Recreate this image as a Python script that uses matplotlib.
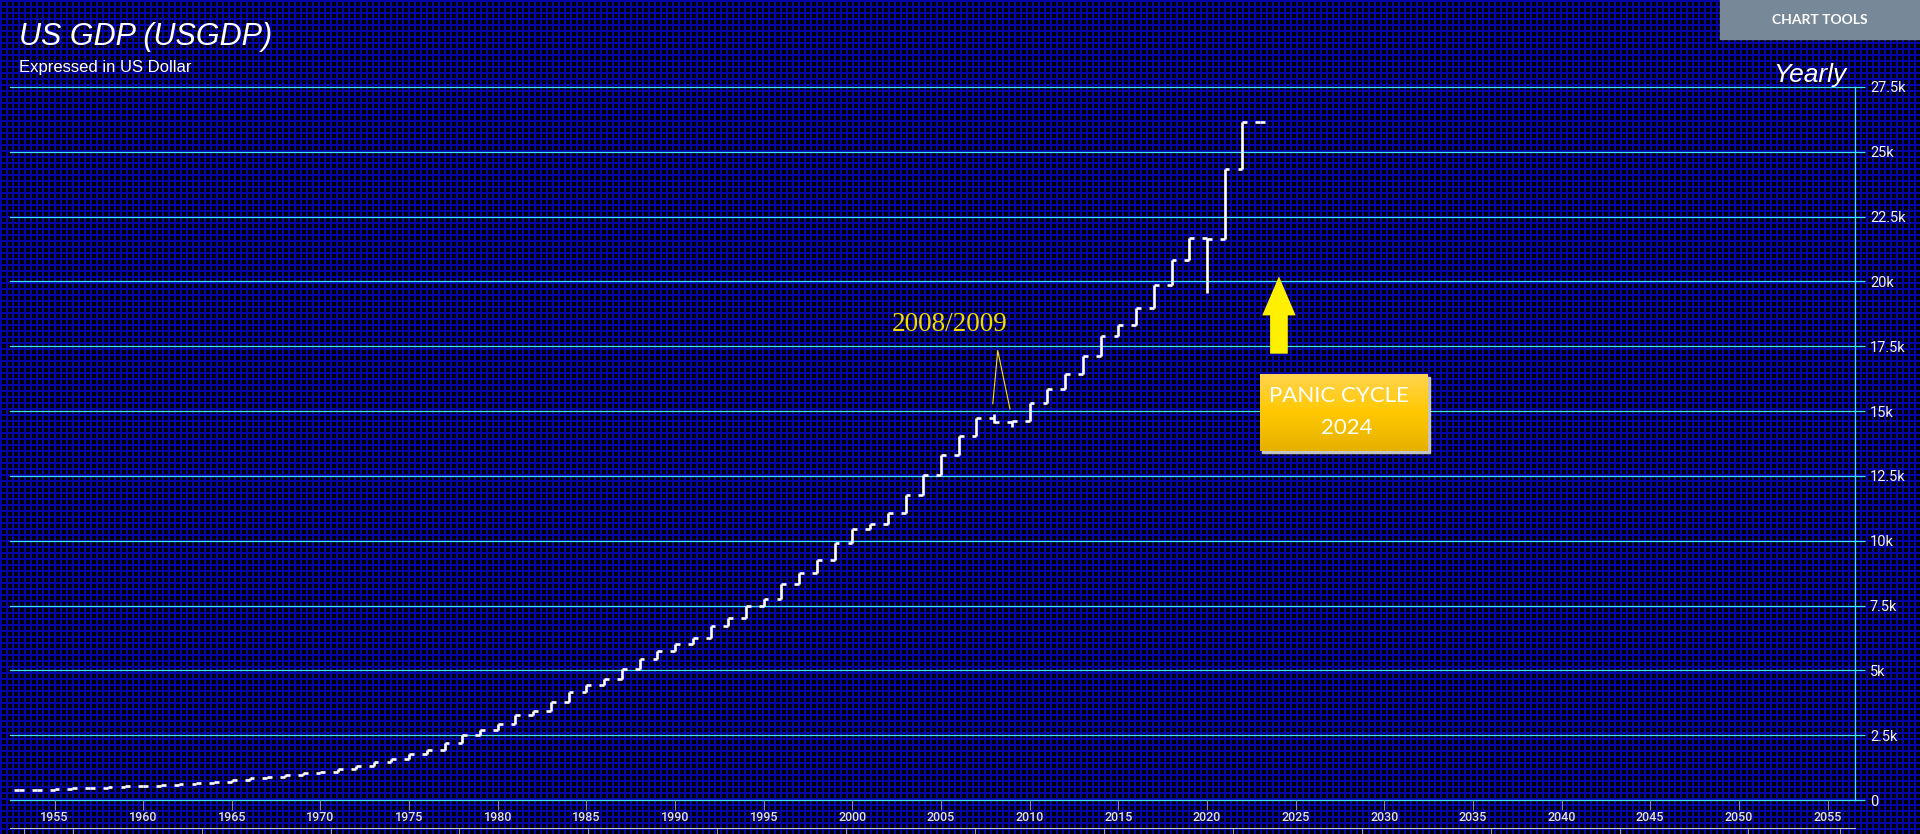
import numpy as np
import matplotlib
matplotlib.use("Agg")
import matplotlib.pyplot as plt
from matplotlib.patches import Rectangle, Polygon
from matplotlib.lines import Line2D

plt.rcParams["font.family"] = ["Roboto", "DejaVu Sans"]

# yearly bars (billions USD): open = previous close, close = Q4 level
years = list(range(1953, 2024))
close = [386, 400, 437, 461, 471, 501, 530,
         540, 586, 615, 654, 698, 771, 830, 881, 971, 1037,
         1087, 1189, 1328, 1475, 1593, 1765, 1931, 2180, 2492, 2717,
         2918, 3269, 3414, 3794, 4149, 4442, 4661, 5046, 5437, 5750,
         6027, 6265, 6704, 7032, 7469, 7764, 8329, 8765, 9268, 9905,
         10435, 10660, 11081, 11772, 12527, 13324, 14038, 14716, 14580, 14630,
         15309, 15844, 16420, 17132, 17912, 18322, 18970, 19882, 20816, 21695,
         21650, 24349, 26138, 26138]
open_ = [380, 386, 400, 437, 461, 471, 501,
         530, 540, 586, 615, 654, 698, 771, 830, 881, 971,
         1037, 1087, 1189, 1328, 1475, 1593, 1765, 1931, 2180, 2492,
         2717, 2918, 3269, 3414, 3794, 4149, 4442, 4661, 5046, 5437,
         5750, 6027, 6265, 6704, 7032, 7469, 7764, 8329, 8765, 9268,
         9905, 10435, 10660, 11081, 11772, 12527, 13324, 14038, 14716, 14580,
         14630, 15309, 15844, 16420, 17132, 17912, 18322, 18970, 19882, 20816,
         21695, 21650, 24349, 26138]
# intra-year extremes beyond open/close
extra_high = {2008: 14880}
extra_low = {2008: 14540, 2009: 14380, 2020: 19550}

ytick_vals = [0, 2500, 5000, 7500, 10000, 12500, 15000, 17500, 20000, 22500, 25000, 27500]
ytick_labels = ["0", "2.5k", "5k", "7.5k", "10k", "12.5k", "15k", "17.5k", "20k", "22.5k", "25k", "27.5k"]
xtick_years = list(range(1955, 2060, 5))

high = [max(o, c, extra_high.get(y, 0)) for y, o, c in zip(years, open_, close)]
low = [min(o, c, extra_low.get(y, 1e9)) for y, o, c in zip(years, open_, close)]

W, H = 1920, 834
cyan = "#3fe3f5"
fig = plt.figure(figsize=(W / 100, H / 100), dpi=100)
fig.patch.set_facecolor("black")

# blueprint style background grid
yy, xx = np.mgrid[0:H, 0:W]
bg = np.zeros((H, W, 3))
mask = (xx % 6 < 2) | (yy % 6 < 2)
bg[mask] = np.array([6, 6, 168]) / 255
fig.figimage(bg, 0, 0, origin="upper", zorder=-5)

ax = fig.add_axes([10 / W, 1 - 800 / H, 1845 / W, 713 / H])
ax.set_facecolor("none")
xlim = (1952.49, 2056.55)
ylim = (0, 27500)
ax.set_xlim(*xlim)
ax.set_ylim(*ylim)

for v in ytick_vals:
    ax.axhline(v, color=cyan, lw=0.9, clip_on=False, zorder=1)

yrs = np.array(years, dtype=float)
tick = 0.27
ax.vlines(yrs, low, high, color="white", lw=1.9, zorder=3)
ax.hlines(open_, yrs - tick, yrs, color="white", lw=1.9, zorder=3)
ax.hlines(close, yrs, yrs + tick, color="white", lw=1.9, zorder=3)

for s in ["left", "top", "bottom"]:
    ax.spines[s].set_visible(False)
ax.spines["right"].set_color(cyan)
ax.spines["right"].set_linewidth(0.9)

ax.yaxis.tick_right()
ax.set_yticks(ytick_vals, ytick_labels)
ax.tick_params(axis="y", length=7.2, width=0.9, color=cyan, labelcolor="#f0f0f0",
               labelsize=10.5, pad=3.6)
ax.set_xticks(xtick_years, [str(y) for y in xtick_years], fontweight="medium")
ax.tick_params(axis="x", length=7.2, width=0.75, color="#8c8c8c", labelcolor="#e0e0e0",
               labelsize=9, pad=0.5)

# 2008/2009 annotation
ax.text(2005.46, 18330, "2008/2009", color="#f2dc00", fontsize=19.5,
        family="Liberation Serif", ha="center", va="center", zorder=5)
ax.plot([2007.92, 2008.2, 2008.89], [15285, 17335, 15080], color="#ffe600", lw=0.8, zorder=5)

# yellow arrow
ax_x, tip = 2024.06, 20195
ax.add_patch(Polygon([(ax_x, tip), (ax_x + 0.942, 18691), (ax_x + 0.499, 18691),
                      (ax_x + 0.499, 17214), (ax_x - 0.499, 17214), (ax_x - 0.499, 18691),
                      (ax_x - 0.942, 18691)], closed=True, color="#fff000", lw=0, zorder=5))

# panic cycle box
bx0, bx1, by0, by1 = 2022.99, 2032.45, 13446, 16404
ax.add_patch(Rectangle((bx0 + 0.11, by0 - 80), bx1 - bx0, by1 - by0, color="#c4c4c4", zorder=4))
top = np.array([255, 212, 80]) / 255
mid = np.array([255, 200, 0]) / 255
bot = np.array([230, 176, 0]) / 255
t = np.linspace(0, 1, 100)[:, None]
grad = np.where(t < 0.5, top + (mid - top) * (t / 0.5), mid + (bot - mid) * ((t - 0.5) / 0.5))
grad = grad[:, None, :].repeat(2, axis=1)
ax.imshow(grad, extent=[bx0, bx1, by0, by1], aspect="auto", origin="upper",
          interpolation="bilinear", zorder=4.5)
ax.text(2027.43, 15567, "PANIC CYCLE", color="white", fontsize=16, family="Lato",
        ha="center", va="center", zorder=6)
ax.text(2027.9, 14360, "2024", color="white", fontsize=16, family="Lato",
        ha="center", va="center", zorder=6)
ax.set_xlim(*xlim)
ax.set_ylim(*ylim)

# header texts
fig.text(19 / W, 1 - 45 / H, "US GDP (USGDP)", color="white", fontsize=22,
         family="Liberation Sans", style="italic", ha="left", va="baseline")
fig.text(19 / W, 1 - 72 / H, "Expressed in US Dollar", color="white", fontsize=12,
         family="Liberation Sans", ha="left", va="baseline")
fig.text(1846 / W, 1 - 82 / H, "Yearly", color="white", fontsize=19,
         family="Liberation Sans", style="italic", ha="right", va="baseline")

fig.add_artist(Rectangle((1720 / W, 1 - 39 / H), 200 / W, 39 / H, transform=fig.transFigure,
                         color="#778899", zorder=2))
fig.text(1820 / W, 1 - 19.5 / H, "CHART TOOLS", color="white", fontsize=10, family="Lato",
         fontweight="bold", ha="center", va="center", zorder=3)

# navigator strip
fig.add_artist(Line2D([10 / W, 1855 / W], [1 - 828 / H] * 2, transform=fig.transFigure,
                      color="#c8c8c8", lw=0.75))
for px in [23.7] + [72.7 + 128.9 * k for k in range(14)] + [1840]:
    fig.add_artist(Line2D([px / W] * 2, [1 - 829 / H, 0], transform=fig.transFigure,
                          color="#9a9a9a", lw=0.75))

fig.savefig("out.png", dpi=100, facecolor=fig.get_facecolor())
